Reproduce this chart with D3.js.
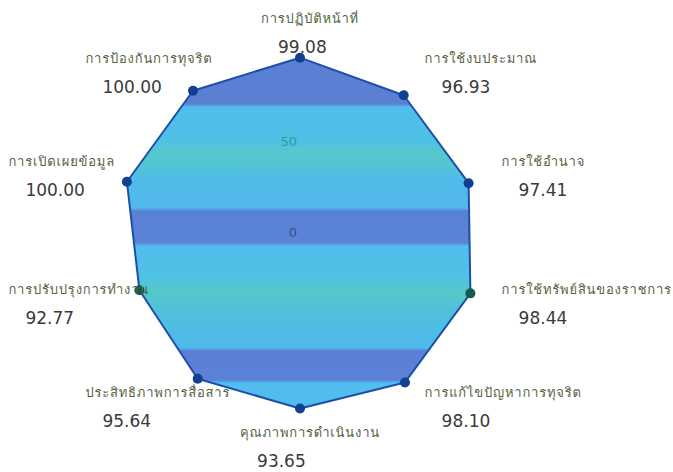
<!DOCTYPE html>
<html>
<head>
<meta charset="utf-8">
<script src="https://cdn.jsdelivr.net/npm/d3@7"></script>
<style>
  html, body { margin: 0; padding: 0; background: #fff; overflow: hidden; }
  svg { display: block; }
</style>
</head>
<body>
<svg id="chart" width="673" height="472"></svg>
<script>
/* Daten */
const labels = ["การปฏิบัติหน้าที่", "การใช้งบประมาณ", "การใช้อำนาจ", "การใช้ทรัพย์สินของราชการ",
                "การแก้ไขปัญหาการทุจริต", "คุณภาพการดำเนินงาน", "ประสิทธิภาพการสื่อสาร",
                "การปรับปรุงการทำงาน", "การเปิดเผยข้อมูล", "การป้องกันการทุจริต"];
const scores = [99.08, 96.93, 97.41, 98.44, 98.10, 93.65, 95.64, 92.77, 100.00, 100.00];
const ticks  = [0, 50];

/* Optionen */
const cx = 300, cy = 238;
const radius = 182;
const labelRadius = 212;
const svg = d3.select("#chart");
const thaiFont = "Tahoma, Loma, Garuda, Waree, 'Noto Sans Thai', 'Noto Sans', sans-serif";

const r = d3.scaleLinear().domain([0, 100]).range([0, radius]);
const angle = d3.scaleLinear().domain([0, labels.length]).range([0, 2 * Math.PI]);

// stripes (moire of the photographed screen), y in page pixels
const stops = [
  [50, "#5b7fd3"], [104, "#5b80d3"], [107, "#50bdec"], [140, "#4fc0e6"],
  [152, "#55c8cc"], [166, "#52c5d4"], [180, "#4fbbea"], [208, "#52b8ec"],
  [211, "#5a80d6"], [243, "#5a84d6"], [246, "#52bdef"], [278, "#4fc2e2"],
  [292, "#55c8c8"], [312, "#50c0dc"], [348, "#4fb8ea"], [351, "#5a7fd4"],
  [380, "#5b82d6"], [383, "#52bdef"], [415, "#50bcee"]
];
const grad = svg.append("defs").append("linearGradient")
  .attr("id", "bands")
  .attr("gradientUnits", "userSpaceOnUse")
  .attr("x1", 0).attr("y1", 50 - cy).attr("x2", 0).attr("y2", 415 - cy);

grad.selectAll("stop")
  .data(stops)
  .enter().append("stop")
    .attr("offset", d => (d[0] - 50) / 365)
    .attr("stop-color", d => d[1]);

const g = svg.append("g").attr("transform", `translate(${cx},${cy})`);

const line = d3.lineRadial()
  .angle((d, i) => angle(i))
  .radius(d => r(d))
  .curve(d3.curveLinearClosed);

g.append("path")
  .datum(scores)
  .attr("d", line)
  .attr("fill", "url(#bands)")
  .attr("stroke", "#1b4fa8")
  .attr("stroke-width", 2)
  .attr("stroke-linejoin", "round");

// tick labels of the radial scale
g.selectAll(".tick")
  .data(ticks)
  .enter().append("text")
    .attr("class", "tick")
    .attr("x", -3)
    .attr("y", d => -r(d) - 1)
    .attr("text-anchor", "end")
    .attr("font-family", "'DejaVu Sans', sans-serif")
    .attr("font-size", 13)
    .attr("fill", d => d === 0 ? "#3a4f8a" : "#2f9a9a")
    .text(d => d);

// points
g.selectAll(".pt")
  .data(scores)
  .enter().append("circle")
    .attr("class", "pt")
    .attr("cx", (d, i) => r(d) * Math.sin(angle(i)))
    .attr("cy", (d, i) => -r(d) * Math.cos(angle(i)))
    .attr("r", 5)
    .attr("fill", (d, i) => (i === 3 || i === 7) ? "#165a4a" : "#123f8f");

// point labels: name and score
const lab = g.selectAll(".lab")
  .data(labels)
  .enter().append("g")
    .attr("class", "lab");

lab.append("text")
  .attr("class", "name")
  .attr("font-family", thaiFont)
  .attr("font-size", 13)
  .attr("letter-spacing", 0.8)
  .attr("fill", "#55643f")
  .text(d => d);

lab.append("text")
  .attr("class", "score")
  .attr("x", 17)
  .attr("y", 30)
  .attr("font-family", "'DejaVu Sans', sans-serif")
  .attr("font-size", 17)
  .attr("fill", "#3a3a3a")
  .text((d, i) => scores[i].toFixed(2));

lab.attr("transform", function(d, i) {
  const a = angle(i);
  const s = Math.sin(a), c = Math.cos(a);
  const w = d3.select(this).select(".name").node().getComputedTextLength();
  let x;
  if (Math.abs(s) < 0.1) x = 10 - w / 2;
  else if (s > 0) x = labelRadius * s;
  else x = labelRadius * s - 90;
  const y = -13 - 207 * c + 5;
  return `translate(${x},${y})`;
});
</script>
</body>
</html>
